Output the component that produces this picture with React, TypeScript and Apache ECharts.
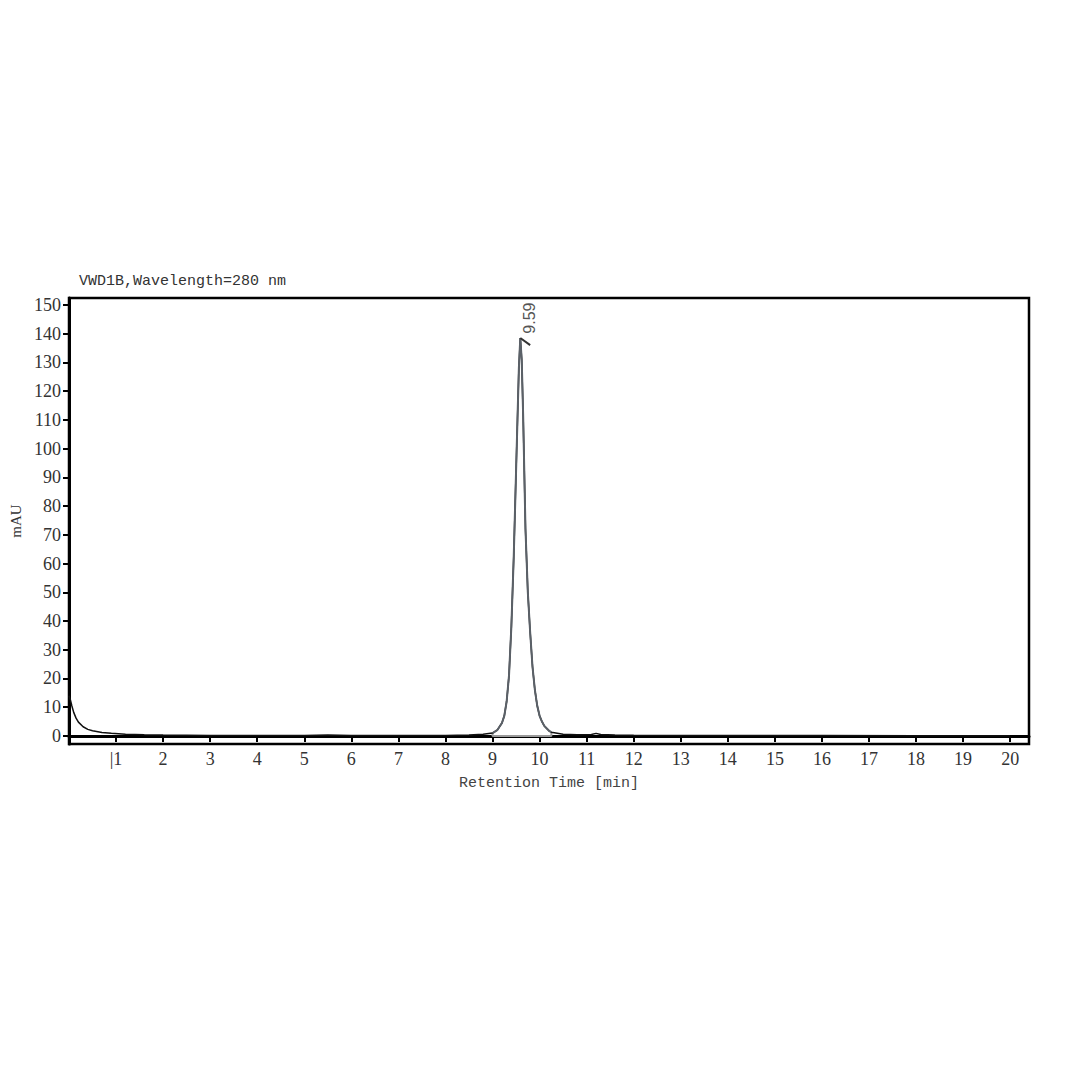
import React, { useEffect, useRef } from "react";
import * as echarts from "echarts";

// Chromatogram trace (retention time [min], absorbance [mAU])
const times = [
  0, 0.03, 0.06, 0.1, 0.15, 0.2, 0.3, 0.4, 0.5, 0.7, 0.9, 1.2, 1.6, 2.0, 3.0, 4.0, 5.0, 5.5, 6.0, 7.0, 8.0, 8.5, 8.8,
  9.0, 9.1, 9.2, 9.25, 9.3, 9.35, 9.4, 9.45, 9.5, 9.53, 9.56, 9.59, 9.62, 9.65, 9.7, 9.75, 9.8, 9.85, 9.9, 9.95,
  10.0, 10.05, 10.1, 10.2, 10.25, 10.5, 10.8, 11.1, 11.2, 11.3, 11.6, 12, 13, 15, 16, 18, 20,
];
const mAU = [
  14, 12.5, 10.5, 8.2, 6.2, 4.8, 3.2, 2.3, 1.8, 1.2, 0.9, 0.6, 0.4, 0.3, 0.2, 0.15, 0.2, 0.35, 0.2, 0.2, 0.2, 0.35, 0.6,
  1.0, 2.0, 4.5, 7, 12, 21, 38, 62, 92, 110, 128, 138.5, 131, 112, 72, 50, 36, 24, 16, 10.5,
  7, 5, 3.5, 1.8, 1.3, 0.6, 0.4, 0.5, 0.9, 0.5, 0.3, 0.25, 0.2, 0.2, 0.15, 0.1, 0.1,
];

// Integrated peak
const peakStart = 9.0;
const peakEnd = 10.25;
const peakApexTime = 9.59;
const peakApexValue = 138.5;
const peakLabel = "9.59";

const yTicks = [0, 10, 20, 30, 40, 50, 60, 70, 80, 90, 100, 110, 120, 130, 140, 150];
const xTicks = [1, 2, 3, 4, 5, 6, 7, 8, 9, 10, 11, 12, 13, 14, 15, 16, 17, 18, 19, 20];

const title = "VWD1B,Wavelength=280 nm";
const xName = "Retention Time [min]";
const yName = "mAU";

export default function App() {
  const ref = useRef<HTMLDivElement>(null);
  useEffect(() => {
    if (!ref.current) return;
    const chart = echarts.init(ref.current, null, { renderer: "svg" });
    const trace = times.map((t, i) => [t, mAU[i]]);
    const peakTrace = trace.filter((p) => p[0] >= peakStart && p[0] <= peakEnd);
    const idxS = times.indexOf(peakStart);
    const idxE = times.indexOf(peakEnd);
    const serif = "'Liberation Serif', 'DejaVu Serif', serif";
    const mono = "'Liberation Mono', 'DejaVu Sans Mono', monospace";
    chart.setOption({
      animation: false,
      backgroundColor: "#ffffff",
      title: {
        text: title,
        left: 66,
        top: 261,
        textStyle: { fontFamily: mono, fontSize: 15, fontWeight: "normal", color: "#333" },
      },
      grid: {
        left: 61,
        right: 34,
        top: 290,
        bottom: 319,
        outerBoundsMode: "none",
        containLabel: false,
        show: true,
        borderColor: "#000",
        borderWidth: 2.5,
        backgroundColor: "transparent",
      },
      xAxis: {
        type: "value",
        min: 0,
        max: 20.4,
        name: xName,
        nameLocation: "middle",
        nameGap: 32,
        nameTextStyle: { fontFamily: mono, fontSize: 15, color: "#444" },
        axisLine: { show: true, lineStyle: { color: "#000", width: 3 } },
        axisTick: { show: true, customValues: xTicks, length: 6, lineStyle: { color: "#000", width: 2 } },
        axisLabel: {
          customValues: xTicks,
          fontFamily: serif,
          fontSize: 18,
          color: "#333",
          margin: 6,
          formatter: (v: number) => (v === 1 ? "|1" : String(v)),
        },
        splitLine: { show: false },
      },
      yAxis: {
        type: "value",
        min: -2.8,
        max: 152.4,
        name: yName,
        nameLocation: "middle",
        nameGap: 46,
        nameRotate: 90,
        nameTextStyle: { fontFamily: serif, fontSize: 15, color: "#333" },
        axisLine: { show: true, lineStyle: { color: "#000", width: 3 } },
        axisTick: { show: true, customValues: yTicks, length: 6, lineStyle: { color: "#000", width: 2 } },
        axisLabel: { customValues: yTicks, fontFamily: serif, fontSize: 18, color: "#333", margin: 8 },
        splitLine: { show: false },
      },
      series: [
        {
          type: "line",
          data: trace,
          showSymbol: false,
          lineStyle: { color: "#111", width: 1.5 },
          z: 2,
        },
        {
          type: "line",
          data: [
            [peakStart, mAU[idxS]],
            [peakStart, 0],
            [peakEnd, 0],
            [peakEnd, mAU[idxE]],
          ],
          showSymbol: false,
          lineStyle: { color: "#9a9a9a", width: 2 },
          z: 1,
        },
        {
          type: "line",
          data: peakTrace,
          showSymbol: false,
          lineStyle: { color: "#5b6168", width: 2 },
          z: 3,
        },
        {
          type: "line",
          data: [
            [peakApexTime, peakApexValue],
            [peakApexTime + 0.21, peakApexValue - 2.5],
          ],
          showSymbol: false,
          lineStyle: { color: "#333", width: 2 },
          z: 4,
          markPoint: {
            symbol: "circle",
            symbolSize: 0,
            data: [
              {
                coord: [peakApexTime + 0.2, peakApexValue + 1.5],
                label: {
                  show: true,
                  formatter: peakLabel,
                  position: "inside",
                  rotate: 90,
                  align: "left",
                  verticalAlign: "middle",
                  fontFamily: "'Liberation Sans', Arial, sans-serif",
                  fontSize: 16,
                  color: "#555",
                },
              },
            ],
          },
        },
      ],
    });
    return () => chart.dispose();
  }, []);
  return <div ref={ref} style={{ width: 1055, height: 1055 }} />;
}
